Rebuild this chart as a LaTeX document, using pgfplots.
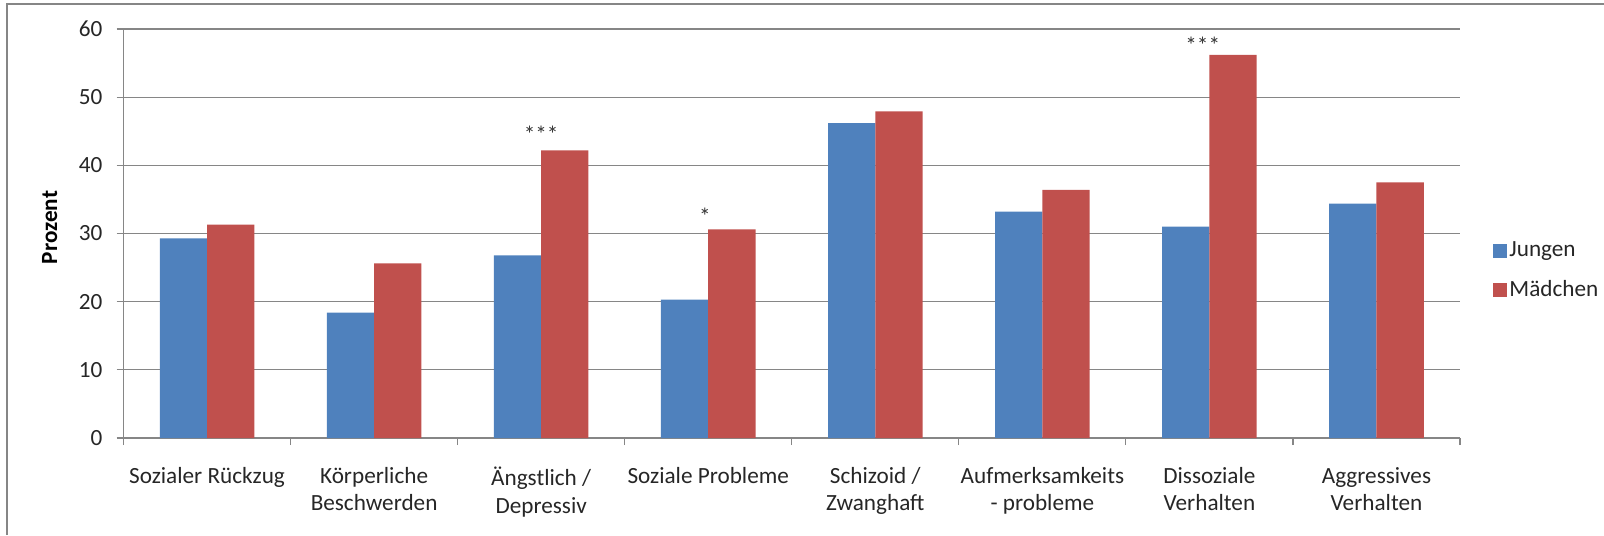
\documentclass[border=0pt]{standalone}
\usepackage{pgfplots}
\pgfplotsset{compat=1.18}
\usepackage{fontspec}
\setmainfont{Carlito}

\definecolor{jblue}{HTML}{4F81BD}
\definecolor{mred}{HTML}{C0504D}
\definecolor{gridgray}{HTML}{868686}

\newcommand{\chartfont}{\fontsize{11.6}{13.8}\selectfont}

\begin{document}
\chartfont
\begin{tikzpicture}
  % chart frame (only top and left visible)
  \draw[gridgray, line width=1pt] (3.5pt,0) -- (3.5pt,265.5pt) -- (802pt,265.5pt);
  \begin{axis}[
      at={(61.75pt,48.5pt)}, anchor=south west,
      scale only axis,
      width=668.25pt, height=204.5pt,
      ymin=0, ymax=60, ytick={0,10,...,60},
      xmin=-0.5, xmax=7.5,
      ybar=0pt, bar width=0.283,
      axis x line*=bottom, axis y line*=left,
      axis line style={gridgray, line width=0.6pt},
      ymajorgrids, grid style={gridgray, line width=0.6pt},
      tick style={gridgray, line width=0.6pt},
      tick align=outside,
      major tick length=3.5pt,
      xtick={-0.5,0.5,...,7.5},
      xticklabels={},
      extra x ticks={0,...,7},
      extra x tick labels={{Sozialer Rückzug},{Körperliche\\Beschwerden},{Ängstlich /\\Depressiv},{Soziale Probleme},{Schizoid /\\Zwanghaft},{Aufmerksamkeits\\- probleme},{Dissoziale\\Verhalten},{Aggressives\\Verhalten}},
      extra x tick style={major tick length=0pt, grid=none,
        xticklabel style={align=center, font=\chartfont, text=black!85, yshift=-10.5pt}},
      yticklabel style={font=\chartfont, text=black!85, xshift=-3pt},
      /pgf/number format/assume math mode=true,
      ylabel={\bfseries Prozent},
      ylabel style={at={(rel axis cs:-0.0553,0.515)}, anchor=center, font=\chartfont},
      legend style={draw=none, fill=none, at={(1.0247,0.409)}, anchor=west, inner sep=0pt,
        row sep=8pt, nodes={inner sep=1pt, font=\chartfont, text=black!85}},
      legend cell align=left,
      legend image code/.code={\fill[#1] (0pt,-3.5pt) rectangle (7pt,3.5pt);},
    ]
    \addplot[fill=jblue, draw=none] coordinates {
      (0,29.3) (1,18.4) (2,26.8) (3,20.3) (4,46.2) (5,33.2) (6,31.0) (7,34.4)
    };
    \addplot[fill=mred, draw=none] coordinates {
      (0,31.3) (1,25.6) (2,42.2) (3,30.6) (4,47.9) (5,36.4) (6,56.2) (7,37.5)
    };
    \legend{Jungen, Mädchen}
    \node[text=black!80] at (axis cs:2,44.5) {***};
    \node[text=black!80] at (axis cs:2.98,32.6) {*};
    \node[text=black!80] at (axis cs:5.96,57.6) {***};
  \end{axis}
  \pgfresetboundingbox
  \useasboundingbox (0,0) rectangle (802pt,267.5pt);
\end{tikzpicture}
\end{document}
